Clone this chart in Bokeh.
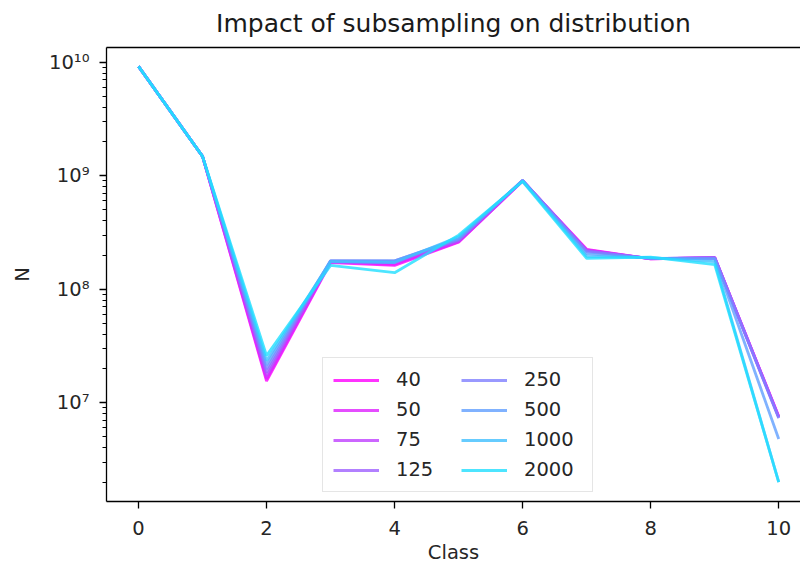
from bokeh.plotting import figure
from bokeh.models import (LinearAxis, FixedTicker, CustomJSTickFormatter, Legend,
                          LegendItem, Range1d)
from bokeh.embed import file_html
from bokeh.resources import INLINE

classes = [0, 1, 2, 3, 4, 5, 6, 7, 8, 9, 10]
sample_sizes = ["40", "50", "75", "125", "250", "500", "1000", "2000"]

n_40   = [9.2e9, 1.48e9, 1.55e7, 1.72e8, 1.62e8, 2.60e8, 9.0e8, 2.25e8, 1.85e8, 1.90e8, 7.6e6]
n_50   = [9.2e9, 1.48e9, 1.62e7, 1.74e8, 1.66e8, 2.62e8, 9.0e8, 2.22e8, 1.85e8, 1.90e8, 7.5e6]
n_75   = [9.2e9, 1.48e9, 1.72e7, 1.76e8, 1.72e8, 2.65e8, 9.1e8, 2.20e8, 1.86e8, 1.90e8, 7.5e6]
n_125  = [9.2e9, 1.48e9, 1.85e7, 1.77e8, 1.76e8, 2.70e8, 9.1e8, 2.18e8, 1.86e8, 1.90e8, 7.4e6]
n_250  = [9.2e9, 1.48e9, 1.98e7, 1.78e8, 1.78e8, 2.75e8, 9.1e8, 2.15e8, 1.87e8, 1.88e8, 7.3e6]
n_500  = [9.2e9, 1.48e9, 2.15e7, 1.78e8, 1.78e8, 2.80e8, 9.1e8, 2.05e8, 1.88e8, 1.85e8, 4.8e6]
n_1000 = [9.2e9, 1.48e9, 2.35e7, 1.75e8, 1.72e8, 2.90e8, 9.0e8, 1.95e8, 1.90e8, 1.75e8, 2.0e6]
n_2000 = [9.2e9, 1.48e9, 2.60e7, 1.62e8, 1.40e8, 3.00e8, 8.9e8, 1.87e8, 1.92e8, 1.65e8, 2.0e6]

series = [n_40, n_50, n_75, n_125, n_250, n_500, n_1000, n_2000]

y_major = [1e7, 1e8, 1e9, 1e10]
x_major = [0, 2, 4, 6, 8, 10]


def cool(t):
    r = int(round(255 * t))
    g = int(round(255 * (1 - t)))
    return "#%02x%02x%02x" % (r, g, 255)


colors = [cool(1 - i / 8) for i in range(len(sample_sizes))]

FONT = "DejaVu Sans"
FS = "19.5px"

p = figure(width=800, height=566, y_axis_type="log",
           x_range=Range1d(-0.5, 10.34), y_range=Range1d(10 ** 6.13, 10 ** 10.13),
           output_backend="svg", toolbar_location=None,
           min_border_left=106, min_border_right=0, min_border_top=43,
           min_border_bottom=62, title="Impact of subsampling on distribution")

p.title.text_font = FONT
p.title.text_font_size = "25px"
p.title.text_font_style = "normal"
p.title.align = "center"
p.title.vertical_align = "top"
p.title.offset = 5
p.title.standoff = 16
p.title.text_color = "#1a1a1a"

p.outline_line_color = None
p.xgrid.visible = False
p.ygrid.visible = False
p.background_fill_color = "white"
p.border_fill_color = "white"

renderers = []
for vals, c in zip(series, colors):
    r = p.line(classes, vals, line_color=c, line_width=2.8, line_alpha=0.8)
    renderers.append(r)

# y axis
ya = p.yaxis[0]
ya.ticker = FixedTicker(ticks=y_major,
                        minor_ticks=[m * 10 ** e for e in range(6, 11) for m in range(2, 10)])
ya.formatter = CustomJSTickFormatter(code="""
const sup = {'0':'\u2070','1':'\u00b9','2':'\u00b2','3':'\u00b3','4':'\u2074',
             '5':'\u2075','6':'\u2076','7':'\u2077','8':'\u2078','9':'\u2079','-':'\u207b'};
const e = Math.round(Math.log10(tick));
return '10' + String(e).split('').map(c => sup[c]).join('');
""")
ya.axis_label = "N"

xa = p.xaxis[0]
xa.ticker = FixedTicker(ticks=x_major, minor_ticks=[])
xa.axis_label = "Class"

for ax in (xa, ya):
    ax.axis_line_color = "black"
    ax.axis_line_width = 1.3
    ax.major_tick_line_color = "black"
    ax.major_tick_line_width = 1.3
    ax.major_tick_out = 7
    ax.major_tick_in = 0
    ax.minor_tick_line_color = "black"
    ax.minor_tick_line_width = 1.0
    ax.minor_tick_out = 4
    ax.minor_tick_in = 0
    ax.major_label_text_font = FONT
    ax.major_label_text_font_size = FS
    ax.major_label_text_color = "#262626"
    ax.axis_label_text_font = FONT
    ax.axis_label_text_font_size = FS
    ax.axis_label_text_font_style = "normal"
    ax.axis_label_text_color = "#262626"

ya.major_label_standoff = 10
xa.major_label_standoff = 12
ya.axis_label_standoff = 12
xa.axis_label_standoff = 3

# top spine
top = LinearAxis(ticker=FixedTicker(ticks=[]), axis_line_color="black",
                 axis_line_width=1.3, major_tick_line_color=None,
                 minor_tick_line_color=None, major_label_text_font_size="0px")
p.add_layout(top, "above")

items = [LegendItem(label=s, renderers=[r]) for s, r in zip(sample_sizes, renderers)]
legend = Legend(items=items, location=(216, 9), orientation="vertical",
                nrows=4, ncols=2,
                glyph_width=46, glyph_height=20, label_height=20, label_width=58,
                label_standoff=17, spacing=7, padding=10, margin=0,
                label_text_font=FONT, label_text_font_size=FS,
                label_text_color="#262626",
                border_line_color="#cccccc", border_line_width=1.3,
                background_fill_color="white", background_fill_alpha=0.8)
p.add_layout(legend, "center")

open("out.html", "w").write(file_html(p, INLINE))
